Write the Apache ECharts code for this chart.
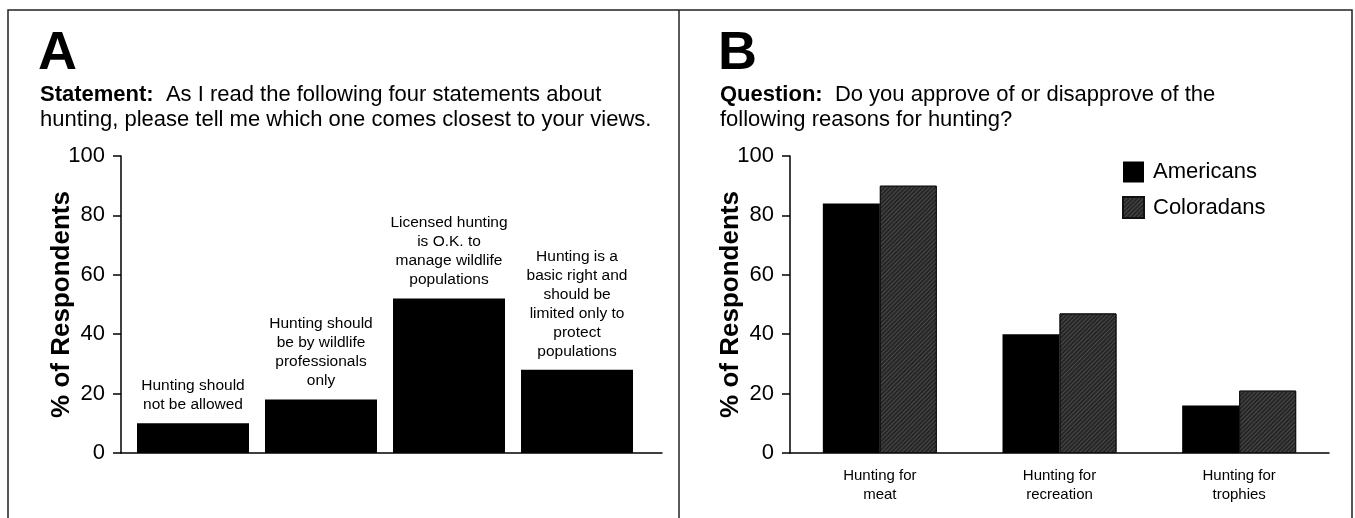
<!DOCTYPE html>
<html>
<head>
<meta charset="utf-8">
<script src="https://cdn.jsdelivr.net/npm/echarts@6/dist/echarts.min.js"></script>
<style>
html,body{margin:0;padding:0;background:#fff;}
#chart{width:1355px;height:518px;}
</style>
</head>
<body>
<div id="chart"></div>
<script>
// ---- data ----
const statementLabels = [
  "Hunting should\nnot be allowed",
  "Hunting should\nbe by wildlife\nprofessionals\nonly",
  "Licensed hunting\nis O.K. to\nmanage wildlife\npopulations",
  "Hunting is a\nbasic right and\nshould be\nlimited only to\nprotect\npopulations"
];
const statementValues = [10, 18, 52, 28];

const reasonCategories = ["Hunting for\nmeat", "Hunting for\nrecreation", "Hunting for\ntrophies"];
const americansValues = [84, 40, 16];
const coloradansValues = [90, 47, 21];
const seriesNames = ["Americans", "Coloradans"];

const yTicks = [0, 20, 40, 60, 80, 100];
const yAxisTitle = "% of Respondents";

// ---- chart ----
const FONT = "'Liberation Sans', Arial, Helvetica, sans-serif";
const chart = echarts.init(document.getElementById('chart'), null, {renderer: 'canvas'});

const yAxisCommon = {
  type: 'value', min: yTicks[0], max: yTicks[yTicks.length - 1], interval: yTicks[1] - yTicks[0],
  name: yAxisTitle, nameLocation: 'middle', nameGap: 46, nameRotate: 90, nameMoveOverlap: false,
  nameTextStyle: {fontFamily: FONT, fontSize: 26, fontWeight: 'bold', color: '#000'},
  axisLine: {show: true, onZero: false, lineStyle: {color: '#000', width: 1.5}},
  axisTick: {show: true, length: 8, lineStyle: {color: '#000', width: 1.5}},
  axisLabel: {fontFamily: FONT, fontSize: 22, color: '#000', margin: 16},
  splitLine: {show: false}
};

const hatch = {
  symbol: 'rect', symbolSize: 1, dashArrayX: [1, 0], dashArrayY: [1, 2],
  rotation: -Math.PI / 4, color: 'rgba(255,255,255,0.16)'
};

const option = {
  animation: false,
  backgroundColor: '#fff',
  title: [
    {text: 'A', left: 33, top: 22, textStyle: {fontFamily: FONT, fontSize: 54, fontWeight: 'bold', color: '#000'}},
    {text: '{b|Statement:}  As I read the following four statements about\nhunting, please tell me which one comes closest to your views.',
     left: 35, top: 77,
     textStyle: {fontFamily: FONT, fontSize: 22, fontWeight: 'normal', color: '#000', lineHeight: 25,
       rich: {b: {fontFamily: FONT, fontSize: 22, fontWeight: 'bold', color: '#000', lineHeight: 25}}}},
    {text: 'B', left: 713, top: 22, textStyle: {fontFamily: FONT, fontSize: 54, fontWeight: 'bold', color: '#000'}},
    {text: '{b|Question:}  Do you approve of or disapprove of the\nfollowing reasons for hunting?',
     left: 715, top: 77,
     textStyle: {fontFamily: FONT, fontSize: 22, fontWeight: 'normal', color: '#000', lineHeight: 25,
       rich: {b: {fontFamily: FONT, fontSize: 22, fontWeight: 'bold', color: '#000', lineHeight: 25}}}}
  ],
  legend: {
    data: seriesNames.map(n => ({name: n, icon: 'rect'})), orient: 'vertical', left: 1122, top: 161, padding: 0,
    itemWidth: 21, itemHeight: 21, itemGap: 13,
    textStyle: {fontFamily: FONT, fontSize: 22, color: '#000', padding: [0, 0, 0, 4]},
    selectedMode: false
  },
  grid: [
    {left: 121, right: 693, top: 156, bottom: 65, containLabel: false},
    {left: 790, right: 26, top: 156, bottom: 65, containLabel: false}
  ],
  xAxis: [
    {gridIndex: 0, type: 'value', min: -0.5625, max: 3.664,
     axisLine: {show: true, onZero: false, lineStyle: {color: '#000', width: 1.5}},
     axisTick: {show: false}, axisLabel: {show: false}, splitLine: {show: false}},
    {gridIndex: 1, type: 'category', data: reasonCategories,
     axisLine: {show: true, onZero: false, lineStyle: {color: '#000', width: 1.5}},
     axisTick: {show: false},
     axisLabel: {fontFamily: FONT, fontSize: 15, color: '#000', lineHeight: 19, margin: 13}}
  ],
  yAxis: [
    Object.assign({gridIndex: 0}, yAxisCommon),
    Object.assign({gridIndex: 1}, yAxisCommon)
  ],
  series: [
    {type: 'bar', xAxisIndex: 0, yAxisIndex: 0, barWidth: 112,
     data: statementValues.map((v, i) => [i, v]),
     itemStyle: {color: '#000'},
     label: {show: true, position: 'top', distance: 9, fontFamily: FONT, fontSize: 15.5, lineHeight: 19, color: '#000',
       align: 'center', formatter: p => statementLabels[p.dataIndex]}},
    {name: seriesNames[0], type: 'bar', xAxisIndex: 1, yAxisIndex: 1, barWidth: 57, barGap: '0%',
     data: americansValues, itemStyle: {color: '#000'}},
    {name: seriesNames[1], type: 'bar', xAxisIndex: 1, yAxisIndex: 1, barWidth: 57, barGap: '0%',
     data: coloradansValues, itemStyle: {color: '#262626', borderColor: '#111', borderWidth: 1, decal: hatch}}
  ],
  graphic: [
    {type: 'rect', shape: {x: 8, y: 10, width: 1344, height: 540}, style: {fill: 'none', stroke: '#222', lineWidth: 1.5}, silent: true},
    {type: 'line', shape: {x1: 679, y1: 10, x2: 679, y2: 540}, style: {stroke: '#222', lineWidth: 1.5}, silent: true}
  ]
};
chart.setOption(option);
</script>
</body>
</html>
